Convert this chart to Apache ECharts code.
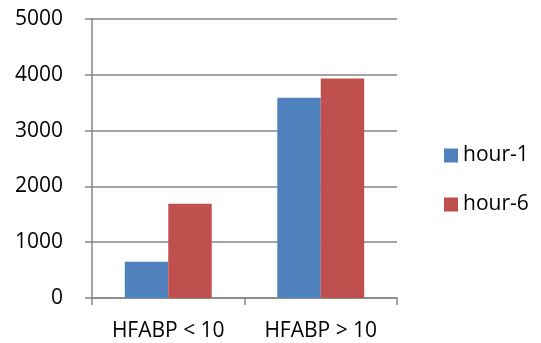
<!DOCTYPE html>
<html>
<head>
<meta charset="utf-8">
<script src="https://cdn.jsdelivr.net/npm/echarts@6/dist/echarts.min.js"></script>
<style>
html, body { margin: 0; padding: 0; background: #fff; }
#chart { width: 541px; height: 343px; }
</style>
</head>
<body>
<div id="chart"></div>
<script>
// HFABP groups and the two sampling times
const categories = ['HFABP < 10', 'HFABP > 10'];
const seriesNames = ['hour-1', 'hour-6'];
const hour1 = [650, 3590];
const hour6 = [1690, 3935];
const yMin = 0, yMax = 5000, yStep = 1000;

const FONT = '"Open Sans", "Liberation Sans", sans-serif';
const AXIS_GRAY = '#868686';

const chart = echarts.init(document.getElementById('chart'), null, { renderer: 'canvas' });
chart.setOption({
  animation: false,
  backgroundColor: '#ffffff',
  grid: { left: 92, right: 144, top: 19, bottom: 45, containLabel: false },
  legend: {
    orient: 'vertical',
    left: 439,
    top: 140,
    itemWidth: 14,
    itemHeight: 14,
    itemGap: 28,
    icon: 'rect',
    textStyle: { fontFamily: FONT, fontSize: 21, color: '#000', padding: [0, 0, 0, 0] },
    data: seriesNames
  },
  xAxis: {
    type: 'category',
    data: categories,
    axisLine: { lineStyle: { color: AXIS_GRAY, width: 1.5 } },
    axisTick: { show: true, length: 7, alignWithLabel: false, lineStyle: { color: AXIS_GRAY, width: 1.5 } },
    axisLabel: { fontFamily: FONT, fontSize: 21, color: '#000', margin: 23 },
    splitLine: { show: false }
  },
  yAxis: {
    type: 'value',
    min: yMin,
    max: yMax,
    interval: yStep,
    axisLine: { show: true, lineStyle: { color: AXIS_GRAY, width: 1.5 } },
    axisTick: { show: true, length: 7, lineStyle: { color: AXIS_GRAY, width: 1.5 } },
    axisLabel: { fontFamily: FONT, fontSize: 21, color: '#000', margin: 29, formatter: v => String(v) },
    splitLine: { show: true, lineStyle: { color: AXIS_GRAY, width: 1.5 } }
  },
  series: [
    {
      name: seriesNames[0],
      type: 'bar',
      data: hour1,
      barGap: '0%',
      barCategoryGap: '43%',
      itemStyle: { color: '#4F81BD' }
    },
    {
      name: seriesNames[1],
      type: 'bar',
      data: hour6,
      barGap: '0%',
      barCategoryGap: '43%',
      itemStyle: { color: '#C0504D' }
    }
  ]
});
</script>
</body>
</html>
